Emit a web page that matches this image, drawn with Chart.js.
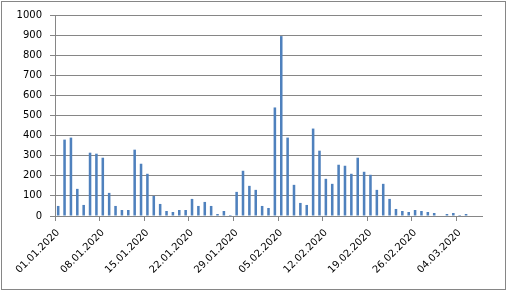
<!DOCTYPE html>
<html>
<head>
<meta charset="utf-8">
<script src="https://cdn.jsdelivr.net/npm/chart.js@4"></script>
<style>
html,body{margin:0;padding:0;background:#fff;}
canvas{display:block;}
</style>
</head>
<body>
<canvas id="c" width="507" height="291"></canvas>
<script>
const categories = [
  "01.01.2020","02.01.2020","03.01.2020","04.01.2020","05.01.2020","06.01.2020","07.01.2020",
  "08.01.2020","09.01.2020","10.01.2020","11.01.2020","12.01.2020","13.01.2020","14.01.2020",
  "15.01.2020","16.01.2020","17.01.2020","18.01.2020","19.01.2020","20.01.2020","21.01.2020",
  "22.01.2020","23.01.2020","24.01.2020","25.01.2020","26.01.2020","27.01.2020","28.01.2020",
  "29.01.2020","30.01.2020","31.01.2020","01.02.2020","02.02.2020","03.02.2020","04.02.2020",
  "05.02.2020","06.02.2020","07.02.2020","08.02.2020","09.02.2020","10.02.2020","11.02.2020",
  "12.02.2020","13.02.2020","14.02.2020","15.02.2020","16.02.2020","17.02.2020","18.02.2020",
  "19.02.2020","20.02.2020","21.02.2020","22.02.2020","23.02.2020","24.02.2020","25.02.2020",
  "26.02.2020","27.02.2020","28.02.2020","29.02.2020","01.03.2020","02.03.2020","03.03.2020",
  "04.03.2020","05.03.2020","06.03.2020","07.03.2020"
];
const values = [
  50, 380, 390, 135, 55, 315, 310,
  290, 115, 50, 30, 30, 330, 260,
  210, 100, 60, 25, 20, 30, 30,
  85, 50, 70, 50, 10, 25, 5,
  120, 225, 150, 130, 50, 40, 540,
  895, 390, 155, 65, 55, 435, 325,
  185, 160, 255, 250, 210, 290, 220,
  205, 130, 160, 85, 35, 25, 20,
  30, 25, 20, 15, 0, 10, 15,
  5, 10, 0, 0
];
const yTicks = [0,100,200,300,400,500,600,700,800,900,1000];
const labelEvery = 7;

const gridColor = '#868686';
const font = {family: "'DejaVu Sans', sans-serif", size: 10};

const frame = {
  id: 'frame',
  beforeDraw(chart) {
    const ctx = chart.ctx;
    ctx.save();
    ctx.fillStyle = '#ffffff';
    ctx.fillRect(0, 0, chart.width, chart.height);
    ctx.strokeStyle = gridColor;
    ctx.lineWidth = 1;
    ctx.strokeRect(1.5, 1.5, 504, 288);
    ctx.restore();
  }
};

new Chart(document.getElementById('c'), {
  type: 'bar',
  data: {
    labels: categories,
    datasets: [{
      data: values,
      backgroundColor: '#4F81BD',
      borderWidth: 0,
      barPercentage: 0.4,
      categoryPercentage: 1
    }]
  },
  options: {
    responsive: false,
    devicePixelRatio: 1,
    animation: false,
    layout: {padding: {left: 0, top: 15, right: 25, bottom: 0}},
    plugins: {legend: {display: false}, tooltip: {enabled: false}},
    scales: {
      x: {
        type: 'category',
        offset: true,
        grid: {
          offset: true,
          drawOnChartArea: false,
          drawTicks: true,
          tickLength: 5,
          color: (ctx) => (ctx.index % labelEvery === 0 ? gridColor : 'rgba(0,0,0,0)')
        },
        border: {display: true, color: gridColor},
        ticks: {
          autoSkip: false,
          maxRotation: 45,
          minRotation: 45,
          padding: 6,
          color: '#000',
          font: font,
          callback: function(v, i) { return i % labelEvery === 0 ? categories[i] : ''; }
        },
        afterFit(s) { s.height = 75; }
      },
      y: {
        min: 0,
        max: 1000,
        afterBuildTicks(s) { s.ticks = yTicks.map(v => ({value: v})); },
        grid: {color: gridColor, tickLength: 5},
        border: {display: true, color: gridColor},
        ticks: {padding: 8, color: '#000', font: font, callback: (v) => String(v)},
        afterFit(s) { s.width = 55; }
      }
    }
  },
  plugins: [frame]
});
</script>
</body>
</html>
